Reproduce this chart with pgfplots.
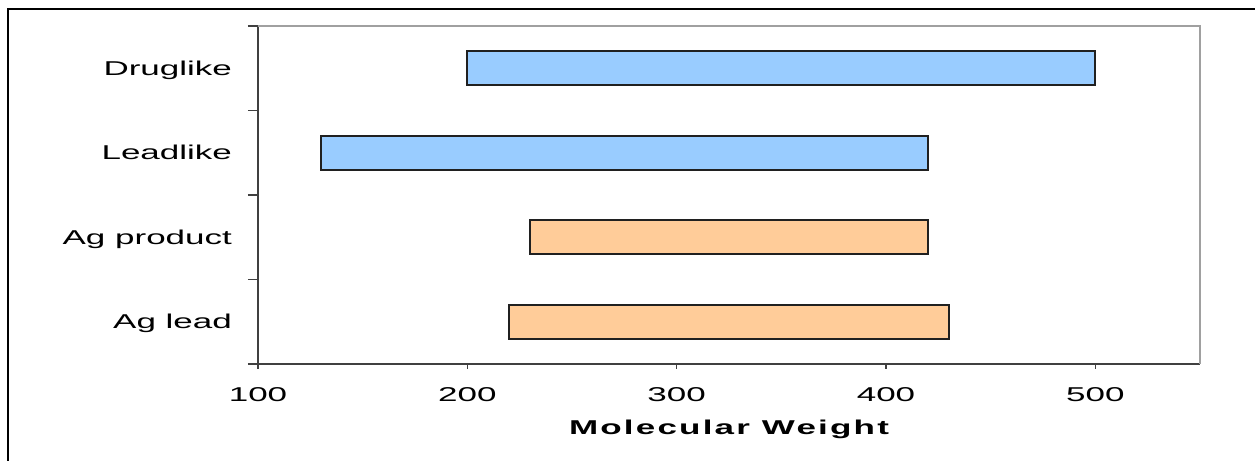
\documentclass[border=0pt]{standalone}
\usepackage{pgfplots}
\usepackage{pgfplotstable}
\pgfplotsset{compat=1.18}
\usepackage{fontspec}
\setmainfont{Liberation Sans}
\newfontfamily\chartfont[FakeStretch=1.75]{Liberation Sans}
\newfontfamily\titlefont[FakeStretch=1.75,LetterSpace=11]{Liberation Sans}

\definecolor{drugblue}{RGB}{153,204,255}
\definecolor{agorange}{RGB}{255,204,153}
\definecolor{axisdark}{RGB}{64,64,64}
\definecolor{axislight}{RGB}{160,160,160}
\definecolor{barline}{RGB}{32,32,32}

% molecular weight ranges: category position, lower and upper bound
\pgfplotstableread{
pos start end
3   200   500
2   130   420
}\pharmaranges
\pgfplotstableread{
pos start end
1   230   420
0   220   430
}\agroranges

\pgfplotsset{
  mwaxis/.style={
    at={(0,0)}, anchor=south west,
    scale only axis, width=471pt, height=169pt,
    xmin=100, xmax=550, ymin=-0.5, ymax=3.5,
    xbar stacked, bar width=17pt,
  },
  rangebar/.style={draw=barline, line width=0.85pt, fill=#1},
}

\begin{document}
\begin{tikzpicture}
\useasboundingbox (-129pt,-48.5pt) rectangle (498.5pt,182pt);
\draw[black, line width=0.6pt] (-125pt,-48.5pt) -- (-125pt,177.5pt) -- (498.5pt,177.5pt);

\begin{axis}[mwaxis,
  axis x line*=bottom, axis y line*=left,
  axis line style={axisdark, line width=0.65pt},
  tick align=outside,
  major tick length=2.5pt, minor tick length=5pt,
  every tick/.append style={axisdark, line width=0.6pt},
  xtick={100,200,300,400,500}, xticklabels={100,200,300,400,500},
  ytick={0,1,2,3}, yticklabels={Ag lead, Ag product, Leadlike, Druglike},
  minor ytick={-0.5,0.5,1.5,2.5,3.5},
  every major y tick/.append style={draw=none},
  ticklabel style={font=\chartfont\fontsize{10}{12}\selectfont},
  xticklabel style={anchor=base, yshift=-16.2pt},
  yticklabel style={anchor=base east, xshift=-7pt, yshift=-3.5pt},
  xlabel={Molecular Weight},
  xlabel style={at={(axis description cs:0.5,0)}, anchor=base, yshift=-35pt,
    font=\titlefont\bfseries\fontsize{10}{12}\selectfont},
  after end axis/.code={
    \draw[axislight, line width=0.6pt] (rel axis cs:0,1) -- (rel axis cs:1,1) -- (rel axis cs:1,0);
  },
]
\addplot[draw=none, fill=none] table[x=start, y=pos]{\pharmaranges};
\addplot[rangebar=drugblue] table[x expr=\thisrow{end}-\thisrow{start}, y=pos]{\pharmaranges};
\end{axis}

\begin{axis}[mwaxis, hide axis]
\addplot[draw=none, fill=none] table[x=start, y=pos]{\agroranges};
\addplot[rangebar=agorange] table[x expr=\thisrow{end}-\thisrow{start}, y=pos]{\agroranges};
\end{axis}
\end{tikzpicture}
\end{document}
